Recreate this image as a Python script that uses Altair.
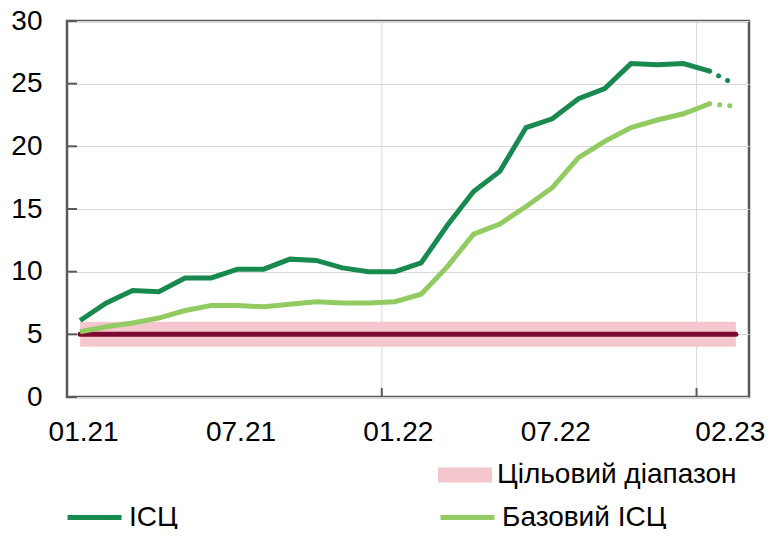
import altair as alt
import pandas as pd

# ---- data ----
months = ["01.21", "02.21", "03.21", "04.21", "05.21", "06.21", "07.21", "08.21",
          "09.21", "10.21", "11.21", "12.21", "01.22", "02.22", "03.22", "04.22",
          "05.22", "06.22", "07.22", "08.22", "09.22", "10.22", "11.22", "12.22",
          "01.23", "02.23"]
cpi = [6.1, 7.5, 8.5, 8.4, 9.5, 9.5, 10.2, 10.2, 11.0, 10.9, 10.3, 10.0,
       10.0, 10.7, 13.7, 16.4, 18.0, 21.5, 22.2, 23.8, 24.6, 26.6, 26.5, 26.6,
       26.0]
core = [5.2, 5.6, 5.9, 6.3, 6.9, 7.3, 7.3, 7.2, 7.4, 7.6, 7.5, 7.5,
        7.6, 8.2, 10.4, 13.0, 13.8, 15.2, 16.7, 19.1, 20.4, 21.5, 22.1, 22.6,
        23.4]
cpi_proj = [26.0, 24.9]      # 01.23 -> 02.23 (dotted)
core_proj = [23.4, 23.2]     # 01.23 -> 02.23 (dotted)
target = 5.0
target_low = 4.0
target_high = 6.0
tick_labels = ["01.21", "07.21", "01.22", "07.22", "02.23"]
y_ticks = [0, 5, 10, 15, 20, 25, 30]
name_cpi = "ІСЦ"
name_core = "Базовий ІСЦ"
name_band = "Цільовий діапазон"

# ---- styles ----
C_CPI = "#188A50"
C_CORE = "#93CB63"
C_BAND = "#F4C7CF"
C_TARGET = "#7D0A33"
C_FRAME = "#595959"
C_GRID = "#D9D9D9"
FONT = "Liberation Sans"
FS = 28

n = len(months)
cpi_df = pd.DataFrame({"idx": list(range(len(cpi))), "value": cpi, "series": name_cpi})
core_df = pd.DataFrame({"idx": list(range(len(core))), "value": core, "series": name_core})
cpi_proj_df = pd.DataFrame({"idx": list(range(len(cpi) - 1, len(cpi) - 1 + len(cpi_proj))), "value": cpi_proj})
core_proj_df = pd.DataFrame({"idx": list(range(len(core) - 1, len(core) - 1 + len(core_proj))), "value": core_proj})
band_df = pd.DataFrame({"x0": [0], "x1": [n - 1], "lo": [target_low], "hi": [target_high], "label": [name_band]})
target_df = pd.DataFrame({"x0": [0], "x1": [n - 1], "v": [target]})
yb_df = pd.DataFrame({"xb": [i - 0.5 for i, m in enumerate(months) if m.startswith("01.") and i > 0]})
ytick_df = pd.DataFrame({"v": y_ticks})

xscale = alt.Scale(domain=[-0.5, n - 0.5], nice=False, zero=False)
yscale = alt.Scale(domain=[0, 30], nice=False, zero=False)

label_expr = "[" + ",".join("'" + m + "'" for m in months) + "][datum.value]"
last_tick = months.index(tick_labels[-1])
x_axis = alt.Axis(values=[months.index(t) for t in tick_labels], labelExpr=label_expr,
                  title=None, grid=False, ticks=False, domain=False,
                  labelFont=FONT, labelFontSize=FS, labelColor="black",
                  labelPadding=21, labelFlush=False, labelOverlap=False,
                  labelOffset={"condition": {"test": f"datum.value == {last_tick}", "value": -6},
                               "value": 3})
y_axis = alt.Axis(values=y_ticks, title=None, grid=True, gridColor=C_GRID, gridWidth=1,
                  ticks=False, domain=False, labelFont=FONT, labelFontSize=FS,
                  labelColor="black", labelPadding=25)

base_w, base_h = 682, 376


def X(field):
    return alt.X(field, scale=xscale, axis=x_axis)


def Y(field):
    return alt.Y(field, scale=yscale, axis=y_axis)


vgrid = alt.Chart(yb_df).mark_rule(color=C_GRID, strokeWidth=1).encode(
    x=X("xb:Q"), y=alt.value(0), y2=alt.value(base_h),
)
xticks = alt.Chart(yb_df).mark_rule(color=C_FRAME, strokeWidth=2).encode(
    x=X("xb:Q"), y=alt.value(base_h - 9), y2=alt.value(base_h),
)
yticks = alt.Chart(ytick_df).mark_rule(color=C_FRAME, strokeWidth=2).encode(
    y=Y("v:Q"), x=alt.value(0), x2=alt.value(10),
)

band = alt.Chart(band_df).mark_rect(opacity=1).encode(
    x=X("x0:Q"), x2="x1:Q",
    y=Y("lo:Q"), y2="hi:Q",
    fill=alt.Fill("label:N", scale=alt.Scale(domain=[name_band], range=[C_BAND]),
                  legend=alt.Legend(orient="none", legendX=371, legendY=427, title=None,
                                    symbolType="M-1,-0.28H1V0.28H-1Z", symbolSize=2916,
                                    symbolStrokeWidth=0, symbolOpacity=1,
                                    labelFont=FONT, labelFontSize=FS, labelColor="black",
                                    labelOffset=5, labelLimit=0, padding=0)),
)

target_line = alt.Chart(target_df).mark_rule(color=C_TARGET, strokeWidth=5, strokeCap="round").encode(
    x=X("x0:Q"), x2="x1:Q", y=Y("v:Q"),
)


def line_legend(lx, ly):
    return alt.Legend(orient="none", legendX=lx, legendY=ly, title=None,
                      symbolType="stroke", symbolSize=2916, symbolStrokeWidth=5,
                      labelFont=FONT, labelFontSize=FS, labelColor="black",
                      labelOffset=5, labelLimit=0, padding=0)


cpi_line = alt.Chart(cpi_df).mark_line(strokeWidth=5).encode(
    x=X("idx:Q"), y=Y("value:Q"),
    stroke=alt.Stroke("series:N", scale=alt.Scale(domain=[name_cpi], range=[C_CPI]),
                      legend=line_legend(-2, 467)),
)
core_line = alt.Chart(core_df).mark_line(strokeWidth=5).encode(
    x=X("idx:Q"), y=Y("value:Q"),
    stroke=alt.Stroke("series:N", scale=alt.Scale(domain=[name_core], range=[C_CORE]),
                      legend=line_legend(371, 467)),
)
cpi_dots = alt.Chart(cpi_proj_df).mark_line(strokeWidth=5, strokeCap="round", strokeDash=[0.1, 10]).encode(
    x=X("idx:Q"), y=Y("value:Q"), stroke=alt.value(C_CPI),
)
core_dots = alt.Chart(core_proj_df).mark_line(strokeWidth=5, strokeCap="round", strokeDash=[0.1, 10]).encode(
    x=X("idx:Q"), y=Y("value:Q"), stroke=alt.value(C_CORE),
)

chart = alt.layer(
    vgrid, band, target_line, cpi_line, cpi_dots, core_line, core_dots, yticks, xticks
).resolve_scale(
    stroke="independent", fill="independent"
).properties(
    width=base_w, height=base_h,
    autosize=alt.AutoSizeParams(type="none"),
    padding={"left": 59, "top": 13, "right": 17, "bottom": 132},
).configure_view(
    stroke=C_FRAME, strokeWidth=2.5
)

chart.save("out.html", embed_options={"renderer": "svg", "actions": False})
